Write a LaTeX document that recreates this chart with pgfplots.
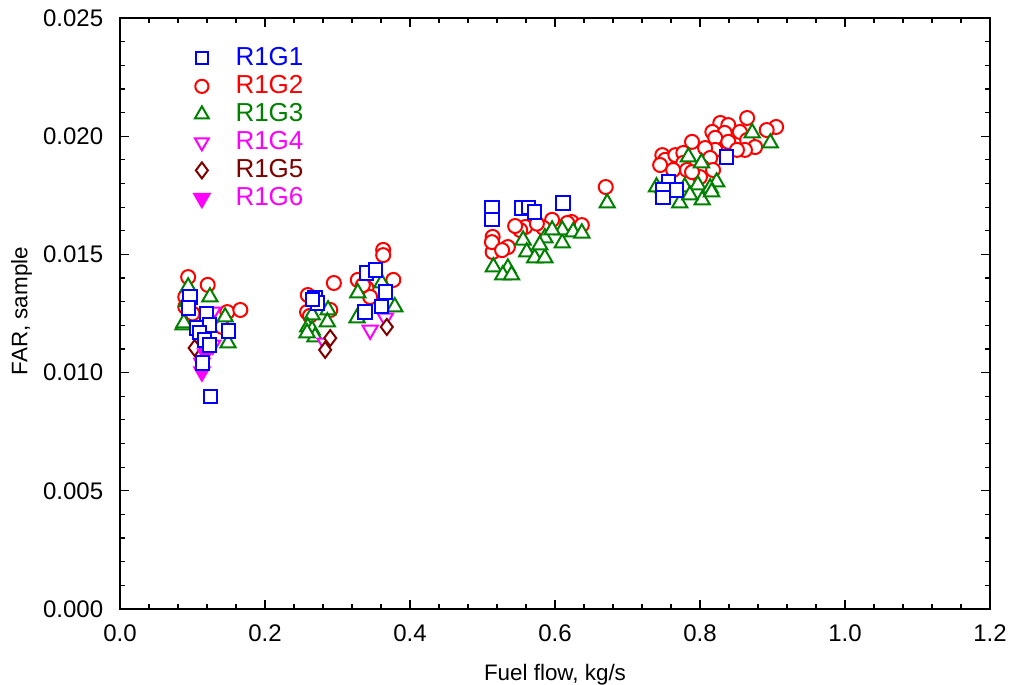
\documentclass[border=0pt]{standalone}
\usepackage{pgfplots}
\pgfplotsset{compat=1.18}
\usepackage{fontspec}
\setmainfont{Liberation Sans}
\definecolor{cblue}{RGB}{0,0,255}
\definecolor{cred}{RGB}{255,0,0}
\definecolor{cgreen}{RGB}{0,128,0}
\definecolor{cmag}{RGB}{255,0,255}
\definecolor{cbrown}{RGB}{128,0,0}
\begin{document}
\fontsize{11.2}{13.5}\selectfont
\begin{tikzpicture}
\useasboundingbox (-60pt,-38pt) rectangle (446.5pt,304.5pt);
\begin{axis}[
  scale only axis, width=435pt, height=295.5pt,
  xmin=0, xmax=1.2, ymin=0, ymax=0.025,
  xtick={0,0.2,...,1.2}, ytick={0,0.005,...,0.025},
  minor x tick num=4, minor y tick num=4,
  tick align=inside,
  major tick length=4.5pt, minor tick length=2.5pt,
  axis line style={line width=0.8pt}, every tick/.style={black, line width=0.6pt},
  /pgf/number format/assume math mode=true,
  tick label style={font=\fontsize{12}{14}\selectfont},
  xticklabel style={/pgf/number format/fixed, /pgf/number format/fixed zerofill, /pgf/number format/precision=1, yshift=-4pt},
  yticklabel style={/pgf/number format/fixed, /pgf/number format/fixed zerofill, /pgf/number format/precision=3, xshift=-4.5pt},
  scaled y ticks=false,
  xlabel={Fuel flow, kg/s}, ylabel={FAR, sample},
  xlabel style={at={(axis description cs:0.5,-0.112)}, anchor=center},
  ylabel style={at={(axis description cs:-0.113,0.504)}, anchor=center},
  legend style={draw=none, fill=none, at={(axis description cs:0.078,0.962)}, anchor=north west, row sep=0.5pt,
    nodes={inner sep=1pt, text height=9.5pt, text depth=2pt},
    font=\fontsize{13}{15}\selectfont},
  legend cell align=left,
]
% R1G2 red circles
\addplot[only marks, mark=*, mark size=3.5pt, mark options={draw=cred, fill=white, line width=1pt}, forget plot] coordinates {
(0.094,0.01404) (0.121,0.01371) (0.090,0.0132) (0.090,0.01278) (0.148,0.01256) (0.166,0.01265) (0.141,0.01193) (0.100,0.0125)
(0.259,0.01328) (0.258,0.01256) (0.290,0.01265) (0.295,0.01379) (0.262,0.0124)
(0.363,0.01519) (0.363,0.01497) (0.377,0.01392) (0.328,0.01392) (0.340,0.01358) (0.345,0.0132) (0.335,0.0137)
(0.559,0.01616) (0.596,0.01646) (0.623,0.01637) (0.637,0.01624) (0.584,0.01612) (0.535,0.01531) (0.514,0.01574) (0.514,0.0151) (0.617,0.01633) (0.552,0.01603) (0.513,0.01552) (0.527,0.01518) (0.575,0.0163) (0.545,0.0162)
(0.670,0.01785)
(0.865,0.02077) (0.828,0.02056) (0.839,0.02047) (0.817,0.02018) (0.855,0.02018) (0.905,0.02039) (0.892,0.02026) (0.834,0.02014) (0.821,0.01993) (0.839,0.01976) (0.865,0.01984) (0.876,0.01954) (0.862,0.01942) (0.851,0.01942) (0.821,0.01942) (0.807,0.0195) (0.789,0.01976) (0.814,0.01908) (0.748,0.0192) (0.752,0.019) (0.745,0.01878) (0.766,0.0192) (0.777,0.01929) (0.777,0.01887) (0.782,0.01857) (0.803,0.0187) (0.818,0.01857) (0.763,0.01857) (0.800,0.01827) (0.789,0.01848)
};
% R1G3 green triangles
\addplot[only marks, mark=triangle*, mark size=4.4pt, mark options={draw=cgreen, fill=white, line width=1pt}, forget plot] coordinates {
(0.094,0.01362) (0.124,0.0132) (0.087,0.01201) (0.145,0.01235) (0.149,0.01125) (0.092,0.0130) (0.088,0.0121)
(0.265,0.01244) (0.287,0.01265) (0.259,0.01193) (0.265,0.0118) (0.286,0.01214) (0.269,0.01151) (0.258,0.01168)
(0.328,0.01337) (0.361,0.01379) (0.379,0.01278) (0.327,0.01231)
(0.556,0.0156) (0.561,0.0151) (0.572,0.01485) (0.586,0.01485) (0.586,0.0157) (0.610,0.01548) (0.610,0.01603) (0.625,0.01595) (0.637,0.0159) (0.596,0.01603) (0.579,0.0154) (0.515,0.01447) (0.535,0.01442) (0.528,0.01413) (0.540,0.01413)
(0.672,0.01717)
(0.872,0.02014) (0.897,0.01971) (0.784,0.01912) (0.802,0.01887) (0.740,0.01785) (0.749,0.01781) (0.779,0.01785) (0.797,0.01794) (0.823,0.01806) (0.814,0.01781) (0.772,0.01717) (0.803,0.0173) (0.786,0.01751) (0.816,0.01764)
};
% R1G4 magenta open down triangles
\addplot[only marks, mark=triangle*, mark size=4.4pt, mark options={rotate=180, draw=cmag, fill=white, line width=1pt}, forget plot] coordinates {
(0.128,0.01256) (0.128,0.01117) (0.120,0.0122) (0.283,0.01125) (0.366,0.01231) (0.345,0.0118)
};
% R1G5 brown diamonds
\addplot[only marks, mark=diamond*, mark size=4pt, mark options={draw=cbrown, fill=white, line width=1pt}, forget plot] coordinates {
(0.103,0.01104) (0.290,0.01146) (0.283,0.01096) (0.368,0.01193)
};
% R1G6 filled magenta down triangles
\addplot[only marks, mark=triangle*, mark size=4.4pt, mark options={rotate=180, draw=cmag, fill=cmag, line width=1pt}, forget plot] coordinates {
(0.113,0.01003) (0.113,0.0104) (0.118,0.0108)
};
% R1G1 blue squares
\addplot[only marks, mark=square*, mark size=3.3pt, mark options={draw=cblue, fill=white, line width=1pt}, forget plot] coordinates {
(0.0966,0.0132) (0.095,0.01273) (0.106,0.01189) (0.119,0.01248) (0.123,0.01201) (0.110,0.01168) (0.117,0.01138) (0.124,0.01117) (0.114,0.01041) (0.150,0.01176) (0.125,0.0090)
(0.269,0.01316) (0.272,0.01294) (0.265,0.0131)
(0.340,0.01421) (0.352,0.01434) (0.366,0.01341) (0.361,0.01278) (0.338,0.01256)
(0.513,0.01696) (0.513,0.01646) (0.554,0.01696) (0.563,0.0170) (0.572,0.01679) (0.611,0.01717)
(0.837,0.01912) (0.756,0.01806) (0.749,0.01772) (0.768,0.01772) (0.749,0.01739)
};
\addlegendimage{only marks, mark=square*, mark size=3pt, mark options={draw=cblue, fill=white, line width=1pt}}
\addlegendentry{\hspace{12pt}\textcolor{cblue}{R1G1}}
\addlegendimage{only marks, mark=*, mark size=3.3pt, mark options={draw=cred, fill=white, line width=1pt}}
\addlegendentry{\hspace{12pt}\textcolor{cred}{R1G2}}
\addlegendimage{only marks, mark=triangle*, mark size=4pt, mark options={draw=cgreen, fill=white, line width=1pt}}
\addlegendentry{\hspace{12pt}\textcolor{cgreen}{R1G3}}
\addlegendimage{only marks, mark=triangle*, mark size=4pt, mark options={rotate=180, draw=cmag, fill=white, line width=1pt}}
\addlegendentry{\hspace{12pt}\textcolor{cmag}{R1G4}}
\addlegendimage{only marks, mark=diamond*, mark size=4pt, mark options={draw=cbrown, fill=white, line width=1pt}}
\addlegendentry{\hspace{12pt}\textcolor{cbrown}{R1G5}}
\addlegendimage{only marks, mark=triangle*, mark size=4.4pt, mark options={rotate=180, draw=cmag, fill=cmag, line width=1pt}}
\addlegendentry{\hspace{12pt}\textcolor{cmag}{R1G6}}
\end{axis}
\end{tikzpicture}
\end{document}
